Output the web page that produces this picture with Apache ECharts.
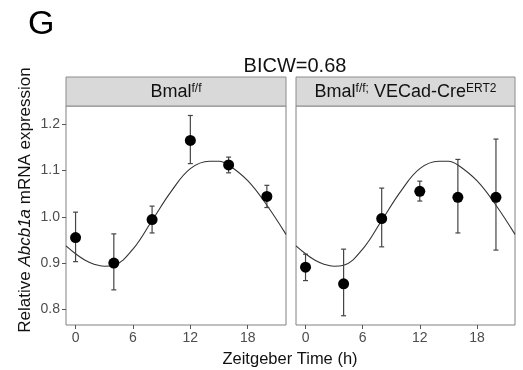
<!DOCTYPE html>
<html>
<head>
<meta charset="utf-8">
<script src="https://cdn.jsdelivr.net/npm/echarts@6/dist/echarts.min.js"></script>
<style>html,body{margin:0;padding:0;background:#fff}#c{width:523px;height:370px}</style>
</head>
<body>
<div id="c"></div>
<script>
// ---- data ----
const times = [0, 4, 8, 12, 16, 20];
const wtMean = [0.955, 0.900, 0.994, 1.165, 1.112, 1.044];
const wtLow  = [0.903, 0.842, 0.965, 1.115, 1.095, 1.020];
const wtHigh = [1.010, 0.963, 1.023, 1.219, 1.129, 1.068];
const koMean = [0.891, 0.855, 0.996, 1.055, 1.042, 1.042];
const koLow  = [0.862, 0.786, 0.935, 1.034, 0.965, 0.928];
const koHigh = [0.919, 0.930, 1.062, 1.077, 1.124, 1.168];
// fitted curve (same in both panels)
const curveT = [-1, 0, 1, 2, 3, 4, 6, 8, 10, 12, 14, 15, 16, 18, 20, 22];
const curveY = [0.937, 0.920, 0.906, 0.897, 0.893, 0.895, 0.930, 0.992, 1.055, 1.104, 1.120, 1.120, 1.112, 1.078, 1.025, 0.962];
const xTicks = [0, 6, 12, 18];
const yTicks = [0.8, 0.9, 1.0, 1.1, 1.2];
const panelTitles = ['Bmal{s|f/f}', 'Bmal{s|f/f;} VECad-Cre{s|ERT2}'];

const chart = echarts.init(document.getElementById('c'), null, {renderer: 'canvas'});
const FONT = 'Liberation Sans, Arial, sans-serif';
const grids = [
  {left: 66, top: 106, width: 220, height: 219},
  {left: 296, top: 106, width: 219, height: 219}
];

function xAxis(i) {
  return {
    type: 'value', gridIndex: i, min: -1, max: 22,
    axisLine: {show: false, onZero: false},
    splitLine: {show: false},
    axisTick: {show: true, length: 4, lineStyle: {color: '#555'}, customValues: xTicks},
    axisLabel: {show: true, color: '#4d4d4d', fontSize: 14, fontFamily: FONT, margin: 6, customValues: xTicks}
  };
}
function yAxis(i) {
  return {
    type: 'value', gridIndex: i, min: 0.766, max: 1.2395,
    axisLine: {show: false, onZero: false},
    splitLine: {show: false},
    axisTick: {show: i === 0, length: 4, lineStyle: {color: '#555'}, customValues: yTicks},
    axisLabel: {show: i === 0, color: '#4d4d4d', fontSize: 14, fontFamily: FONT, margin: 6,
      customValues: yTicks, formatter: v => v.toFixed(1)}
  };
}

function errSeries(i, lo, hi) {
  return {
    type: 'custom', xAxisIndex: i, yAxisIndex: i, z: 3,
    data: times.map((t, k) => [t, lo[k], hi[k]]),
    renderItem: function (params, api) {
      const x = api.value(0);
      const a = api.coord([x, api.value(1)]);
      const b = api.coord([x, api.value(2)]);
      const w = 2.5;
      const st = {stroke: '#444', lineWidth: 1.2};
      return {type: 'group', children: [
        {type: 'line', shape: {x1: a[0], y1: a[1], x2: b[0], y2: b[1]}, style: st},
        {type: 'line', shape: {x1: a[0] - w, y1: a[1], x2: a[0] + w, y2: a[1]}, style: st},
        {type: 'line', shape: {x1: b[0] - w, y1: b[1], x2: b[0] + w, y2: b[1]}, style: st}
      ]};
    }
  };
}
function curveSeries(i) {
  return {
    type: 'line', xAxisIndex: i, yAxisIndex: i, z: 2,
    data: curveT.map((t, k) => [t, curveY[k]]),
    smooth: 0.4, showSymbol: false, symbol: 'none',
    lineStyle: {color: '#333', width: 1.1}, silent: true
  };
}
function pointSeries(i, m) {
  return {
    type: 'scatter', xAxisIndex: i, yAxisIndex: i, z: 4,
    data: times.map((t, k) => [t, m[k]]),
    symbolSize: 11, itemStyle: {color: '#000', opacity: 1}
  };
}

const supStyle = {fontSize: 12, fontFamily: FONT, fill: '#111', verticalAlign: 'top', lineHeight: 12};

chart.setOption({
  animation: false,
  backgroundColor: '#fff',
  title: [
    {text: 'G', left: 23, top: 3, textStyle: {fontSize: 34, fontWeight: 'normal', color: '#000', fontFamily: FONT}},
    {text: 'BICW=0.68', left: 290, top: 51, textAlign: 'center',
      textStyle: {fontSize: 20, fontWeight: 'normal', color: '#111', fontFamily: FONT}}
  ],
  grid: grids.map(g => Object.assign({show: true, borderColor: '#808080', borderWidth: 1, backgroundColor: '#fff', containLabel: false}, g)),
  xAxis: [xAxis(0), xAxis(1)],
  yAxis: [yAxis(0), yAxis(1)],
  graphic: [
    {type: 'rect', shape: {x: 66, y: 77, width: 220, height: 29}, style: {fill: '#d9d9d9', stroke: '#8c8c8c', lineWidth: 1}, z: 10},
    {type: 'rect', shape: {x: 296, y: 77, width: 219, height: 29}, style: {fill: '#d9d9d9', stroke: '#8c8c8c', lineWidth: 1}, z: 10},
    {type: 'text', x: 176, y: 92, z: 11, style: {text: panelTitles[0], fontSize: 18, fontFamily: FONT, fill: '#111', align: 'center', verticalAlign: 'middle',
      rich: {s: supStyle}}},
    {type: 'text', x: 405.5, y: 92, z: 11, style: {text: panelTitles[1], fontSize: 18, fontFamily: FONT, fill: '#111', align: 'center', verticalAlign: 'middle',
      rich: {s: supStyle}}},
    {type: 'text', x: 290, y: 359, z: 11, style: {text: 'Zeitgeber Time (h)', fontSize: 16.5, fontFamily: FONT, fill: '#111', align: 'center', verticalAlign: 'middle'}},
    {type: 'text', x: 25, y: 200, rotation: Math.PI / 2, z: 11, style: {text: 'Relative {i|Abcb1a} mRNA expression', fontSize: 17, fontFamily: FONT, fill: '#111',
      align: 'center', verticalAlign: 'middle', rich: {i: {fontStyle: 'italic', fontSize: 17, fontFamily: FONT, fill: '#111'}}}}
  ],
  series: [
    curveSeries(0), errSeries(0, wtLow, wtHigh), pointSeries(0, wtMean),
    curveSeries(1), errSeries(1, koLow, koHigh), pointSeries(1, koMean)
  ]
});
</script>
</body>
</html>
